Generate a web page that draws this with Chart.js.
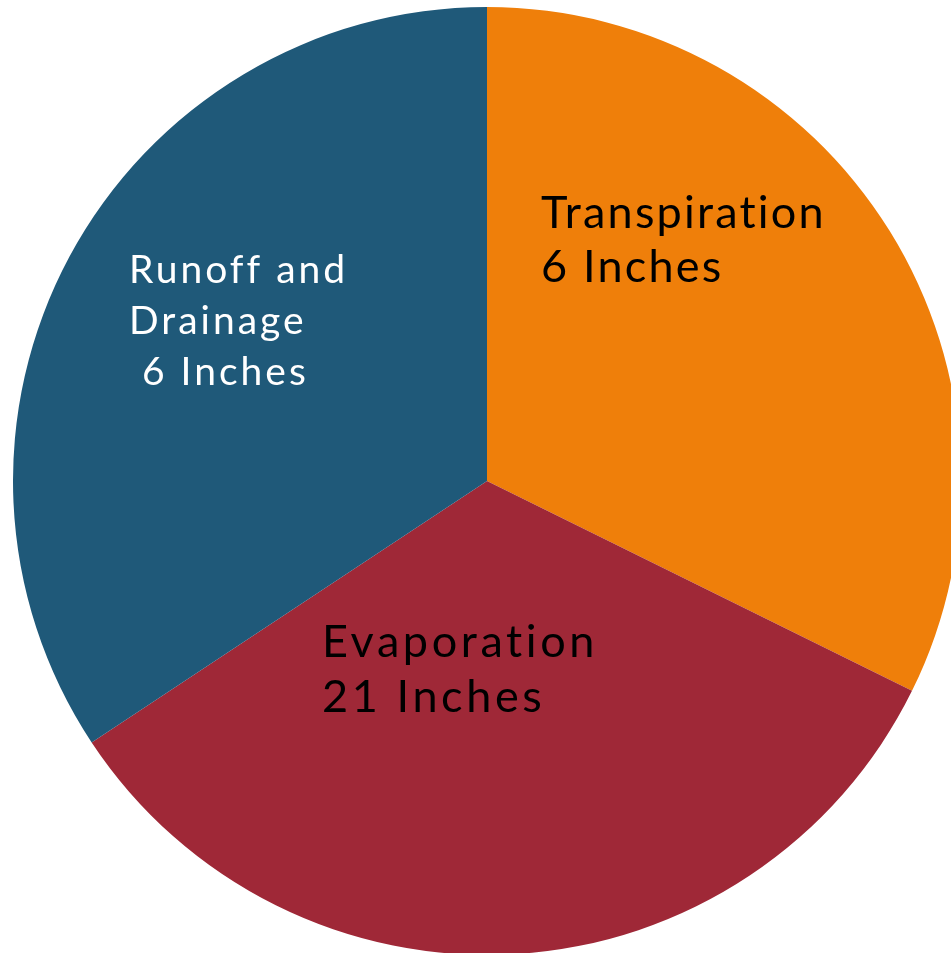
<!DOCTYPE html>
<html>
<head>
<meta charset="utf-8">
<script src="https://cdn.jsdelivr.net/npm/chart.js@4/dist/chart.umd.min.js"></script>
<style>
  html, body { margin: 0; padding: 0; background: #fff; overflow: hidden; }
  #wrap { position: absolute; left: 13px; top: 7px; width: 948px; height: 948px; }
</style>
</head>
<body>
<div id="wrap"><canvas id="waterChart" width="948" height="948"></canvas></div>
<script>
// Share of the pie
const categories = ["Transpiration", "Evaporation", "Runoff and Drainage"];
const shares = [32.3, 33.4, 34.3];
const amounts = ["6 Inches", "21 Inches", " 6 Inches"];
const sliceColors = ["#EF7F0A", "#9F2837", "#1F5979"];

/* -------------------------------
   Slice labels (left aligned, placed relative to pie centre)
--------------------------------*/
const labelLayout = [
  { lines: [categories[0], amounts[0]], dx: 54, dy: -253, size: 45, gap: 54, spacing: 2.2, color: "#000" },
  { lines: [categories[1], amounts[1]], dx: -165, dy: 176, size: 45, gap: 55, spacing: 3.6, color: "#000" },
  { lines: ["Runoff and", "Drainage", amounts[2]], dx: -358, dy: -198, size: 39, gap: 51, spacing: 3, color: "#fff" }
];

const sliceLabels = {
  id: "sliceLabels",
  afterDatasetsDraw(chart) {
    const arc = chart.getDatasetMeta(0).data[0];
    if (!arc) return;
    const ctx = chart.ctx;
    ctx.save();
    ctx.textAlign = "left";
    ctx.textBaseline = "alphabetic";
    labelLayout.forEach(l => {
      ctx.fillStyle = l.color;
      ctx.font = `${l.size}px Lato, "DejaVu Sans", sans-serif`;
      ctx.letterSpacing = `${l.spacing}px`;
      l.lines.forEach((t, i) => {
        ctx.fillText(t, arc.x + l.dx, arc.y + l.dy + i * l.gap);
      });
    });
    ctx.restore();
  }
};

new Chart(document.getElementById("waterChart"), {
  type: "pie",
  data: {
    labels: categories,
    datasets: [{
      data: shares,
      backgroundColor: sliceColors,
      borderWidth: 0
    }]
  },
  options: {
    responsive: false,
    animation: false,
    layout: { padding: 0 },
    plugins: {
      legend: { display: false },
      tooltip: { enabled: false }
    }
  },
  plugins: [sliceLabels]
});
</script>
</body>
</html>
